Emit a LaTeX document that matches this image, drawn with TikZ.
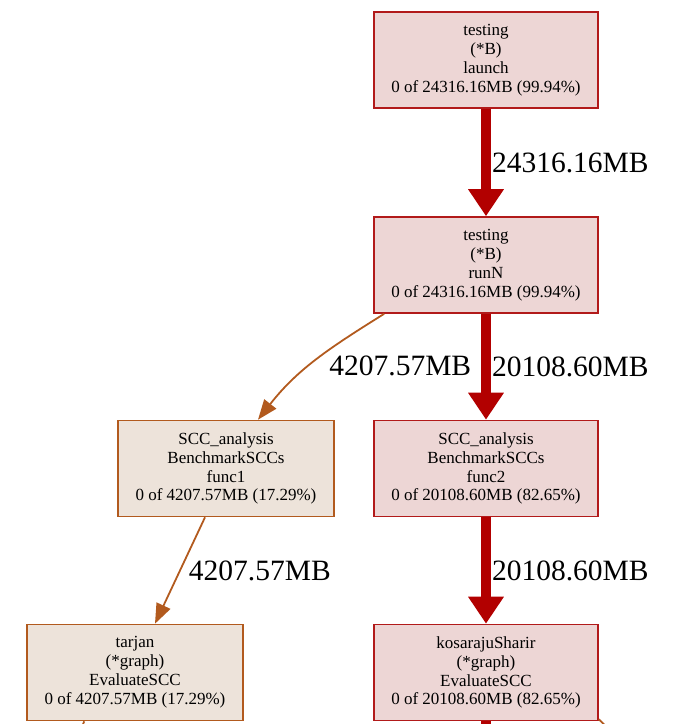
\documentclass[tikz,border=0pt]{standalone}
\usepackage{fontspec}
\setmainfont{Liberation Serif}
\usetikzlibrary{arrows.meta}
\definecolor{hotedge}{HTML}{B20000}
\definecolor{hotline}{HTML}{B21A1A}
\definecolor{hotfill}{HTML}{EDD6D5}
\definecolor{warmedge}{HTML}{B25A1E}
\definecolor{warmfill}{HTML}{EDE3DA}
\begin{document}
\begin{tikzpicture}[x=1pt,y=1pt,
  box/.style={draw,align=center,font=\fontsize{17}{18.9}\selectfont,line width=1.6pt,minimum height=96pt,inner sep=2pt},
  hot/.style={box,fill=hotfill,draw=hotline,minimum width=224pt},
  warm/.style={box,fill=warmfill,draw=warmedge,minimum width=216pt},
  lbl/.style={font=\fontsize{29.5}{32}\selectfont,inner sep=0pt},
  big/.style={draw=hotedge,line width=10pt,-{Triangle[length=27pt,width=34pt]}},
  thin/.style={draw=warmedge,line width=1.8pt,-{Triangle[length=20pt,width=15pt]}}]
\clip (0,0) rectangle (676,-724);
\node[hot] (launch) at (486,-60) {testing\\ (*B)\\ launch\\ 0 of 24316.16MB (99.94\%)};
\node[hot] (runN) at (486,-265) {testing\\ (*B)\\ runN\\ 0 of 24316.16MB (99.94\%)};
\node[warm] (func1) at (226,-468.5) {SCC\_analysis\\ BenchmarkSCCs\\ func1\\ 0 of 4207.57MB (17.29\%)};
\node[hot] (func2) at (486,-468.5) {SCC\_analysis\\ BenchmarkSCCs\\ func2\\ 0 of 20108.60MB (82.65\%)};
\node[warm] (tarjan) at (135,-672.5) {tarjan\\ (*graph)\\ EvaluateSCC\\ 0 of 4207.57MB (17.29\%)};
\node[hot] (kosaraju) at (486,-672.5) {kosarajuSharir\\ (*graph)\\ EvaluateSCC\\ 0 of 20108.60MB (82.65\%)};
% edges leaving the picture
\coordinate (tarjanout) at (76,-742);
\coordinate (kosout) at (486,-742);
\coordinate (sideout) at (622,-742);
\draw[big] (launch) -- node[lbl,right=1pt] {24316.16MB} (runN);
\draw[big] (runN) -- node[lbl,right=1pt] {20108.60MB} (func2);
\draw[big] (func2) -- node[lbl,right=1pt] {20108.60MB} (kosaraju);
\draw[thin] ([xshift=11pt]runN.south west) to[out=212,in=52]
  node[lbl,pos=0.5,anchor=west,xshift=13pt,yshift=-5pt] {4207.57MB} ([xshift=32pt]func1.north);
\draw[thin] ([xshift=-21pt]func1.south) -- node[lbl,pos=0.5,anchor=west,xshift=8pt] {4207.57MB} ([xshift=20pt]tarjan.north);
\draw[draw=warmedge,line width=1.8pt] ([xshift=58pt]tarjan.south west) -- (tarjanout);
\draw[draw=hotedge,line width=10pt] (kosaraju) -- (kosout);
\draw[draw=warmedge,line width=1.8pt] ([yshift=2pt]kosaraju.south east) -- (sideout);
\end{tikzpicture}
\end{document}
